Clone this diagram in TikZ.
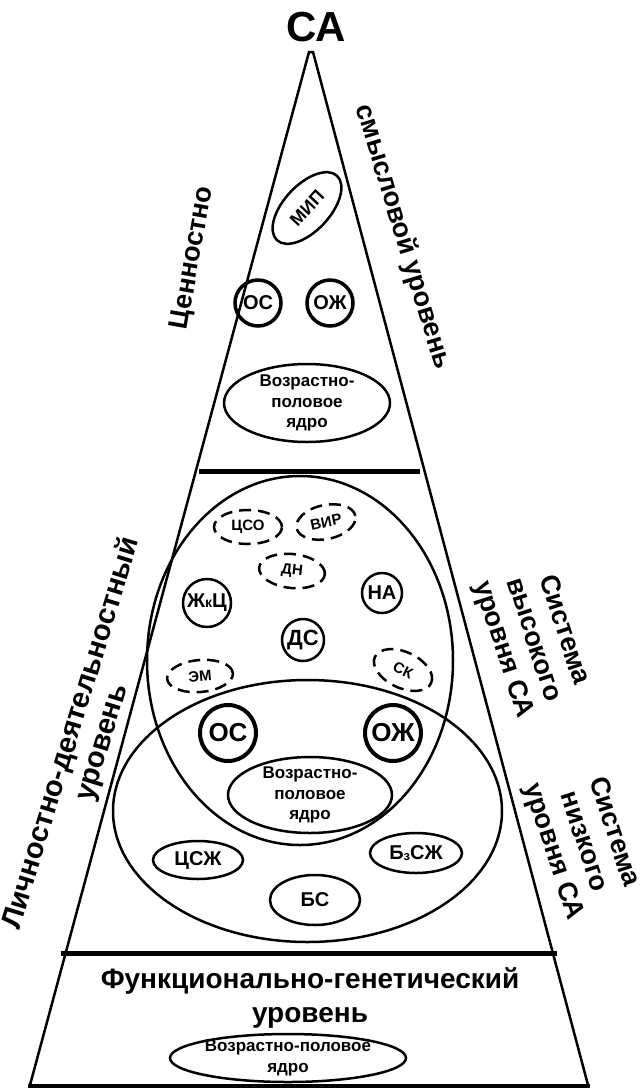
\documentclass[tikz,border=0pt]{standalone}
\usepackage{fontspec}
\setmainfont{Liberation Sans}
\usetikzlibrary{shapes.geometric}

\begin{document}
\begin{tikzpicture}[x=1pt, y=-1pt,
  side/.style={line width=2.5pt, line join=miter},
  bar/.style={line width=5pt},
  sidelabel/.style={font=\bfseries\fontsize{27}{32}\selectfont, align=center, inner sep=0},
  oval/.style={ellipse, draw, line width=2.5pt, inner sep=0},
  dashoval/.style={ellipse, draw, line width=2.5pt, dash pattern=on 12pt off 7pt, inner sep=0,
                   font=\bfseries\fontsize{15}{15}\selectfont},
  ring/.style={circle, draw, line width=2.5pt, inner sep=0, font=\bfseries\fontsize{20}{20}\selectfont},
  boldring/.style={circle, draw, line width=3.5pt, inner sep=0},
  coretext/.style={font=\bfseries\fontsize{17}{20.5}\selectfont, align=center, inner sep=0},
  tag/.style={font=\bfseries\fontsize{20}{20}\selectfont}
]
\useasboundingbox (0,0) rectangle (642,1088);

% pyramid outline and level bars
\draw[side] (30,1085) -- (309,52) -- (313,52) -- (588,1085);
\draw[line width=4pt] (28,1085.5) -- (590,1085.5);
\draw[bar] (199,471) -- (420,471);
\draw[bar] (61,953) -- (557,953);

% title
\node[font=\bfseries\fontsize{42}{42}\selectfont, inner sep=0] (title) at (316,27) {СА};

% value-semantic level
\node[sidelabel, rotate=80] (valL) at (193,258) {Ценностно};
\node[sidelabel, rotate=-73] (valR) at (403,237) {смысловой уровень};
\node[oval, rotate=47, minimum width=88pt, minimum height=46pt,
      font=\bfseries\fontsize{18}{18}\selectfont] (mip) at (307,208) {МИП};
\node[boldring, minimum size=46pt, font=\bfseries\fontsize{20}{20}\selectfont] (os1) at (258,303) {ОС};
\node[boldring, minimum size=46pt, font=\bfseries\fontsize{20}{20}\selectfont] (oz1) at (330,303) {ОЖ};
\node[oval, minimum width=166pt, minimum height=78pt] (core1) at (307,403) {};
\node[coretext] (core1t) at (core1) {Возрастно-\\половое\\ядро};

% personal-activity level: high and low systems
\node[oval, minimum width=306pt, minimum height=369pt] (high) at (300,660.5) {};
\node[oval, minimum width=389pt, minimum height=262pt] (low) at (307.5,811) {};

\node[dashoval, minimum width=68pt, minimum height=34pt] (cso) at (248,527) {ЦСО};
\node[dashoval, rotate=12, minimum width=60pt, minimum height=34pt] (vir) at (326,522) {ВИР};
\node[dashoval, rotate=-6, minimum width=66pt, minimum height=34pt] (dn) at (292,571) {ДН};
\node[ring, minimum size=48pt] (zkc) at (207,603) {Ж{\fontsize{14}{14}\selectfont к}Ц};
\node[ring, minimum size=40pt] (na) at (382,593) {НА};
\node[ring, minimum size=42pt, font=\bfseries\fontsize{22}{22}\selectfont] (ds) at (303,640) {ДС};
\node[dashoval, rotate=5, minimum width=66pt, minimum height=32pt] (em) at (200,676) {ЭМ};
\node[dashoval, rotate=-25, minimum width=62pt, minimum height=36pt] (sk) at (403,670) {СК};

\node[boldring, line width=4pt, minimum size=56pt, font=\bfseries\fontsize{26}{26}\selectfont] (os2) at (228,733) {ОС};
\node[boldring, line width=4pt, minimum size=56pt, font=\bfseries\fontsize{26}{26}\selectfont] (oz2) at (393,733) {ОЖ};
\node[oval, minimum width=164pt, minimum height=76pt] (core2) at (310,795) {};
\node[coretext] (core2t) at (core2) {Возрастно-\\половое\\ядро};

\node[oval, tag, minimum width=90pt, minimum height=38pt] (csz) at (198,860) {ЦСЖ};
\node[oval, tag, minimum width=92pt, minimum height=40pt] (bzsz) at (416,853)
  {Б\raisebox{-1pt}{\fontsize{13}{13}\selectfont з}СЖ};
\node[oval, tag, minimum width=90pt, minimum height=50pt] (bs) at (315,900) {БС};

\node[sidelabel, font=\bfseries\fontsize{29}{32}\selectfont, rotate=73] (persL) at (87,738)
  {Личностно-деятельностный\\уровень};
\node[sidelabel, rotate=-72] (highL) at (533,640) {Система\\высокого\\уровня СА};
\node[sidelabel, rotate=-72] (lowL) at (583,842) {Система\\низкого\\уровня СА};

% functional-genetic level
\node[font=\bfseries\fontsize{28}{28}\selectfont, inner sep=0] (fg1) at (310,981) {Функционально-генетический};
\node[font=\bfseries\fontsize{28}{28}\selectfont, inner sep=0] (fg2) at (310,1018) {уровень};
\node[oval, minimum width=236pt, minimum height=48pt] (core3) at (288,1058) {};
\node[coretext] (core3t) at (core3) {Возрастно-половое\\ядро};
\end{tikzpicture}
\end{document}
